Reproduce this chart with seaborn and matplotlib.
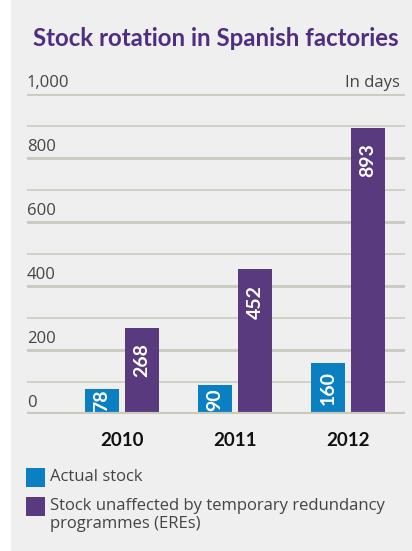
import matplotlib
matplotlib.use("Agg")
import matplotlib.pyplot as plt
import matplotlib.transforms as mtransforms
from matplotlib.patches import Rectangle
import seaborn as sns
import pandas as pd

years = ["2010", "2011", "2012"]
actual_stock = [78, 90, 160]
unaffected_stock = [268, 452, 893]
series_names = ["Actual stock", "Stock unaffected by temporary redundancy\nprogrammes (EREs)"]
ytick_values = [0, 200, 400, 600, 800, 1000]
ytick_labels = ["0", "200", "400", "600", "800", "1,000"]
title = "Stock rotation in Spanish factories"
unit_label = "In days"

BLUE = "#0a80c2"
PURPLE = "#5a3a7e"
TITLE_PURPLE = "#4f2d80"
BG = "#efefef"
GRID = "#c9c9bd"
FONT = ["Open Sans", "DejaVu Sans"]
BFONT = ["Lato", "DejaVu Sans"]

df = pd.DataFrame({
    "year": years * 2,
    "value": actual_stock + unaffected_stock,
    "series": [series_names[0]] * 3 + [series_names[1]] * 3,
})

W, H = 412, 551
fig = plt.figure(figsize=(W / 100, H / 100), dpi=100)
fig.patch.set_facecolor("white")
fig.add_artist(Rectangle((11 / W, 0), 1, 1, transform=fig.transFigure,
                         facecolor=BG, edgecolor="none", zorder=-10))

left, right = 27 / W, 405 / W
bottom, top = (H - 414) / H, (H - 94) / H
ax = fig.add_axes([left, bottom, right - left, top - bottom])
ax.set_facecolor("none")

sns.barplot(data=df, x="year", y="value", hue="series",
            palette=[BLUE, PURPLE], width=0.708, gap=0.15,
            ax=ax, legend=False, zorder=3, saturation=1)

ax.set_xlim(-0.841, 2.504)
ax.set_ylim(0, 1000)
for s in ax.spines.values():
    s.set_visible(False)

# grid lines
for v in range(100, 1001, 100):
    ax.axhline(v, color=GRID, lw=2.0 if v % 200 == 0 else 1.1, zorder=1)
ax.axhline(0, color=GRID, lw=3, zorder=4)

ax.set_yticks([])
ax.set_xlabel("")
ax.set_ylabel("")
ax.tick_params(axis="x", length=0, pad=13)
for lab in ax.get_xticklabels():
    lab.set_fontweight("bold")
    lab.set_fontsize(13.5)
    lab.set_family(BFONT)
    lab.set_color("#111111")

trans = mtransforms.blended_transform_factory(ax.transAxes, ax.transData)
for v, t in zip(ytick_values, ytick_labels):
    ax.text(0, v + 8, t, transform=trans, ha="left", va="bottom",
            fontsize=12, color="#444444", family=FONT)
ax.text(0.987, 1000 + 8, unit_label, transform=trans, ha="right", va="bottom",
        fontsize=12, color="#444444", family=FONT)

# value labels inside bars
for cont in ax.containers:
    for rect in cont:
        v = rect.get_height()
        txt = f"{v:.0f}"
        L = 36 * len(txt)
        off = min(48, max(2, (v - L) / 2))
        ax.text(rect.get_x() + rect.get_width() / 2, v - off, txt,
                rotation=90, ha="center", va="top", color="white",
                fontsize=14, fontweight="bold", family=BFONT, zorder=5)

fig.text(216 / W, 1 - 38 / H, title, ha="center", va="center",
         fontsize=17.3, fontweight="bold", color=TITLE_PURPLE, family=BFONT)

# legend
leg_items = [(BLUE, series_names[0], 468), (PURPLE, series_names[1], 497)]
for col, name, ytop in leg_items:
    fig.add_artist(Rectangle((26 / W, 1 - (ytop + 19) / H), 19 / W, 19 / H,
                             transform=fig.transFigure, facecolor=col,
                             edgecolor="none"))
    fig.text(50 / W, 1 - (ytop + 1) / H, name, ha="left", va="top",
             fontsize=12, color="#444444", family=FONT, linespacing=1.18)

fig.savefig("out.png", dpi=100, facecolor=fig.get_facecolor())
